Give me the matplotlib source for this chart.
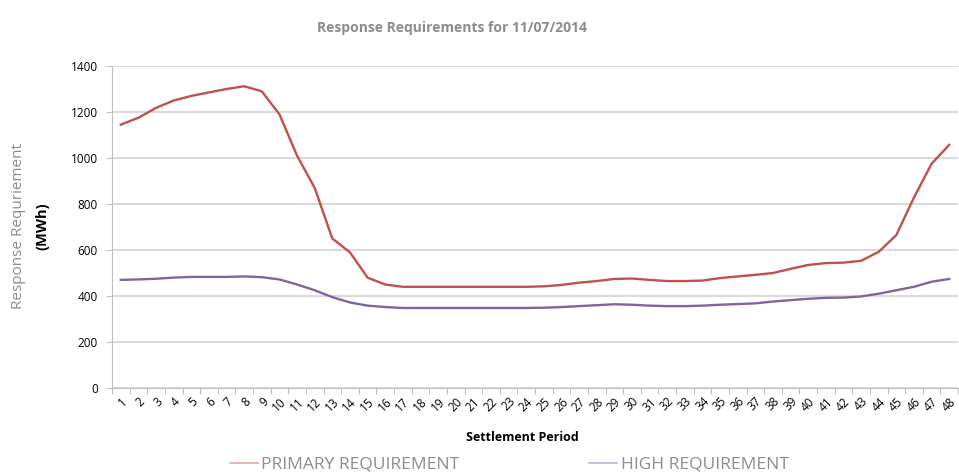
import numpy as np
import matplotlib.pyplot as plt

# settlement periods 1..48
periods = list(range(1, 49))

primary = [1145, 1175, 1218, 1250, 1270, 1285, 1300, 1312, 1290, 1190,
           1010, 870, 650, 590, 480, 450, 440, 440, 440, 440,
           440, 440, 440, 440, 442, 448, 458, 465, 474, 476,
           470, 465, 465, 467, 478, 485, 492, 500, 518, 535,
           543, 545, 553, 592, 665, 828, 975, 1057]

high = [470, 472, 475, 480, 483, 483, 483, 485, 482, 472,
        450, 425, 395, 372, 358, 352, 348, 348, 348, 348,
        348, 348, 348, 348, 349, 352, 356, 360, 364, 362,
        358, 356, 356, 358, 362, 365, 368, 376, 382, 388,
        392, 393, 398, 410, 425, 440, 462, 474]

yticks = [0, 200, 400, 600, 800, 1000, 1200, 1400]

plt.rcParams['font.family'] = ['Open Sans', 'DejaVu Sans']

fig = plt.figure(figsize=(9.59, 4.74), dpi=100)
ax = fig.add_axes([112 / 959, 1 - 388 / 474, 846 / 959, 322 / 474])

l1, = ax.plot(periods, primary, color='#c0504d', lw=1.7, label='PRIMARY REQUIREMENT')
l2, = ax.plot(periods, high, color='#8064a2', lw=1.7, label='HIGH REQUIREMENT')

ax.set_xlim(0.5, 48.5)
ax.set_ylim(0, 1400)
ax.set_yticks(yticks)
ax.yaxis.grid(True, color='#d9d9d9', lw=1.4)
ax.set_axisbelow(True)

# category ticks sit between labels, like excel
ax.set_xticks(np.arange(0.5, 49, 1))
ax.set_xticklabels([])
ax.set_xticks(periods, minor=True)
ax.set_xticklabels([str(p) for p in periods], minor=True, rotation=45,
                   ha='right', va='top', rotation_mode='anchor', fontsize=8.5)
ax.tick_params(axis='x', which='minor', length=0, pad=5)
ax.tick_params(axis='x', which='major', length=4, color='#bfbfbf')
ax.tick_params(axis='y', length=4, color='#bfbfbf', labelsize=8.5, pad=6)

for s in ['top', 'right']:
    ax.spines[s].set_visible(False)
for s in ['left', 'bottom']:
    ax.spines[s].set_color('#bfbfbf')

fig.text(0.471, 0.94, 'Response Requirements for 11/07/2014', ha='center',
         va='center', fontsize=10, fontweight='bold', color='#8c8c8c')
fig.text(0.019, 0.523, 'Response Requriement', rotation=90, ha='center',
         va='center', fontsize=11, color='#8c8c8c')
fig.text(0.044, 0.523, '(MWh)', rotation=90, ha='center', va='center',
         fontsize=10.5, fontweight='bold', color='black')
fig.text(0.545, 0.078, 'Settlement Period', ha='center', va='center',
         fontsize=9, fontweight='bold')

leg = fig.legend(handles=[l1, l2], loc='center', bbox_to_anchor=(0.531, 0.02),
                 ncol=2, frameon=False, fontsize=12.5, handlelength=1.6,
                 handletextpad=0.2, columnspacing=7.5)
for t in leg.get_texts():
    t.set_color('#8c8c8c')
for h in leg.legend_handles:
    h.set_alpha(0.5)
    h.set_linewidth(1.2)

fig.savefig('out.png', dpi=100)
